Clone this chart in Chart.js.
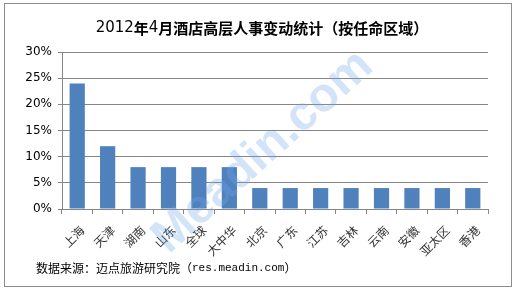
<!DOCTYPE html>
<html>
<head>
<meta charset="utf-8">
<script src="https://cdn.jsdelivr.net/npm/chart.js@4/dist/chart.umd.min.js"></script>
<style>
  html, body { margin: 0; padding: 0; background: #fff; }
  #wrap { width: 517px; height: 291px; position: relative; }
</style>
</head>
<body>
<div id="wrap"><canvas id="hotelChart" width="517" height="291"></canvas></div>
<script>
// 按任命区域
const regions = ['上海', '天津', '湖南', '山东', '全球', '大中华', '北京', '广东', '江苏', '吉林', '云南', '安徽', '亚太区', '香港'];
const shares = [24, 12, 8, 8, 8, 8, 4, 4, 4, 4, 4, 4, 4, 4];
const yTicks = [0, 5, 10, 15, 20, 25, 30];

// 标题: 数字用常规字体, 中文加粗
const titleParts = [['2012', 0], ['年', 1], ['4', 0], ['月酒店高层人事变动统计（按任命区域）', 1]];
const sourceParts = [['数据来源：迈点旅游研究院（', 1], ['res.meadin.com', 0], ['）', 1]];
const watermark = 'Meadin.com';

function drawRuns(c, parts, fonts, x, y, center) {
    let total = 0;
    parts.forEach(p => { c.font = fonts[p[1]]; total += c.measureText(p[0]).width; });
    let cx = center ? x - total / 2 : x;
    parts.forEach(p => {
        c.font = fonts[p[1]];
        c.fillText(p[0], cx, y);
        cx += c.measureText(p[0]).width;
    });
}

// 边框、标题、来源、水印
const extras = {
    id: 'extras',
    beforeDraw(chart) {
        const c = chart.ctx;
        c.save();
        c.strokeStyle = '#8c8c8c';
        c.lineWidth = 1;
        c.strokeRect(4.5, 3.5, 507, 283);
        c.fillStyle = '#000';
        c.textAlign = 'left';
        c.textBaseline = 'middle';
        drawRuns(c, titleParts,
            ['15px "DejaVu Sans", sans-serif', 'bold 15px "Noto Sans CJK SC", sans-serif'],
            262, 28, true);
        drawRuns(c, sourceParts,
            ['11px "Liberation Mono", monospace', '12px "Noto Sans CJK SC", sans-serif'],
            36, 268, false);
        c.restore();
    },
    afterDraw(chart) {
        const c = chart.ctx;
        c.save();
        c.translate(263, 152);
        c.rotate(-42 * Math.PI / 180);
        c.font = 'bold 48px "Liberation Sans", Arial, sans-serif';
        c.fillStyle = 'rgba(110, 165, 235, 0.3)';
        c.textAlign = 'center';
        c.textBaseline = 'middle';
        c.fillText(watermark, 0, 0);
        c.restore();
    }
};

const ctx = document.getElementById('hotelChart');
const chart = new Chart(ctx, {
    type: 'bar',
    data: {
        labels: regions,
        datasets: [{
            label: '',
            data: shares,
            backgroundColor: '#4f81bd',
            barPercentage: 0.5,
            categoryPercentage: 1.0
        }]
    },
    options: {
        responsive: false,
        animation: false,
        layout: { padding: { left: 0, right: 29, top: 52, bottom: 0 } },
        plugins: {
            legend: { display: false },
            title: { display: false },
            tooltip: { enabled: false }
        },
        scales: {
            x: {
                offset: true,
                grid: {
                    offset: true,
                    drawOnChartArea: false,
                    drawTicks: true,
                    tickLength: 5,
                    color: '#868686'
                },
                border: { color: '#868686' },
                ticks: {
                    minRotation: 45,
                    maxRotation: 45,
                    autoSkip: false,
                    padding: 9,
                    labelOffset: 5,
                    color: '#333',
                    font: { size: 12, family: '"Noto Sans CJK SC", sans-serif' }
                },
                afterFit(scale) { scale.height = 82; }
            },
            y: {
                min: 0,
                max: 30,
                afterBuildTicks(scale) { scale.ticks = yTicks.map(v => ({ value: v })); },
                grid: {
                    color: '#868686',
                    tickLength: 4
                },
                border: { color: '#868686' },
                ticks: {
                    padding: 6,
                    color: '#000',
                    font: { size: 12, family: '"DejaVu Sans", sans-serif' },
                    callback: v => v + '%'
                },
                afterFit(scale) { scale.width = 62; }
            }
        }
    },
    plugins: [extras]
});
</script>
</body>
</html>
